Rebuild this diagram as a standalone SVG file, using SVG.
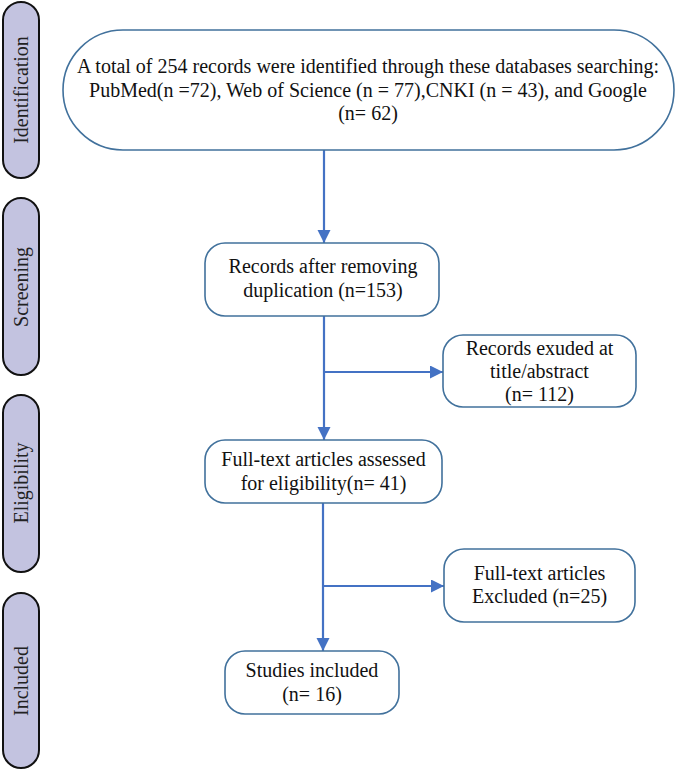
<svg xmlns="http://www.w3.org/2000/svg" width="676" height="771" viewBox="0 0 676 771">
<style>
.bar{fill:#C3C3E0;stroke:#111;stroke-width:2}
.bt{font-family:"Liberation Serif","Times New Roman",serif;font-size:20px;fill:#222;text-anchor:middle;dominant-baseline:central}
.box{fill:#fff;stroke:#41719C;stroke-width:1.6}
.t{font-family:"Liberation Serif","Times New Roman",serif;font-size:20px;fill:#111;text-anchor:middle}
.c{fill:none;stroke:#4472C4;stroke-width:2.2}
</style>
<defs>
<marker id="ah" markerUnits="userSpaceOnUse" markerWidth="14" markerHeight="14" refX="13" refY="6.5" orient="auto">
<path d="M0,0 L13,6.5 L0,13 Z" fill="#4472C4"/>
</marker>
</defs>
<rect width="676" height="771" fill="#fff"/>
<g id="phase-identification">
<rect class="bar" x="3" y="2" width="36" height="176" rx="18"/>
<text class="bt" transform="translate(21,90) rotate(-90)">Identification</text>
</g>
<g id="phase-screening">
<rect class="bar" x="3" y="198" width="36" height="177" rx="18"/>
<text class="bt" transform="translate(21,287) rotate(-90)">Screening</text>
</g>
<g id="phase-eligibility">
<rect class="bar" x="3" y="395" width="36" height="177" rx="18"/>
<text class="bt" transform="translate(21,483) rotate(-90)">Eligibility</text>
</g>
<g id="phase-included">
<rect class="bar" x="3" y="593" width="36" height="175" rx="18"/>
<text class="bt" transform="translate(21,681) rotate(-90)">Included</text>
</g>
<g id="connectors">
<path class="c" d="M324,150 V243" marker-end="url(#ah)"/>
<path class="c" d="M324,316 V440" marker-end="url(#ah)"/>
<path class="c" d="M324,372 H443" marker-end="url(#ah)"/>
<path class="c" d="M323,503 V651" marker-end="url(#ah)"/>
<path class="c" d="M323,586 H444" marker-end="url(#ah)"/>
</g>
<g id="identified">
<rect class="box" x="63" y="30" width="611" height="120" rx="60"/>
<text class="t" x="368" y="73">A total of 254 records were identified through these databases searching:</text>
<text class="t" x="368" y="96.5">PubMed(n =72), Web of Science (n = 77),CNKI (n = 43), and Google</text>
<text class="t" x="368" y="120">(n= 62)</text>
</g>
<g id="deduplicated">
<rect class="box" x="205" y="243" width="234" height="73" rx="20"/>
<text class="t" x="323" y="273">Records after removing</text>
<text class="t" x="323" y="297">duplication (n=153)</text>
</g>
<g id="excluded-title">
<rect class="box" x="443" y="335" width="193" height="72" rx="20"/>
<text class="t" x="539.5" y="355">Records exuded at</text>
<text class="t" x="539.5" y="378">title/abstract</text>
<text class="t" x="539.5" y="401">(n= 112)</text>
</g>
<g id="fulltext">
<rect class="box" x="205" y="440" width="237" height="63" rx="20"/>
<text class="t" x="323.5" y="466">Full-text articles assessed</text>
<text class="t" x="323.5" y="490">for eligibility(n= 41)</text>
</g>
<g id="excluded-fulltext">
<rect class="box" x="444" y="549" width="191" height="73" rx="20"/>
<text class="t" x="539.5" y="580">Full-text articles</text>
<text class="t" x="539.5" y="603">Excluded (n=25)</text>
</g>
<g id="included">
<rect class="box" x="225" y="651" width="174" height="63" rx="20"/>
<text class="t" x="312" y="677">Studies included</text>
<text class="t" x="312" y="701">(n= 16)</text>
</g>
</svg>
